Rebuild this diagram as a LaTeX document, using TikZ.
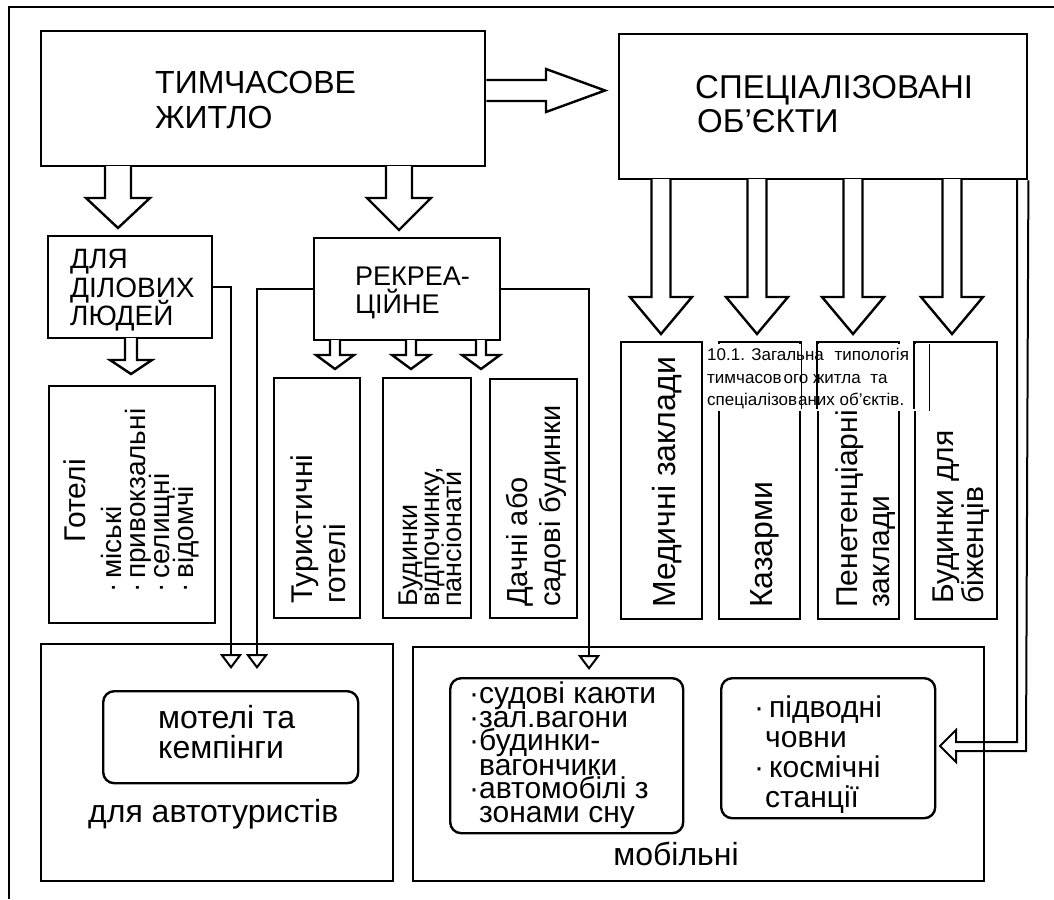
\documentclass[tikz,border=0pt]{standalone}
\usepackage{fontspec}
\setmainfont{Liberation Sans}
\usetikzlibrary{arrows.meta}
\newcommand{\fsz}[2]{\fontsize{#1}{#2}\selectfont}
% box given by its top-left and bottom-right corners
\newcommand{\boxnode}[6][box]{\node[#1, anchor=north west, minimum width={#5-#3}, minimum height={#6-#4}] (#2) at (#3,#4) {};}
% hollow block arrow pointing down: centre x, top, head start, tip, shaft half width, head half width
\newcommand{\downblk}[6]{\draw[blk] ({#1-#5},#2) -- ({#1-#5},#3) -- ({#1-#6},#3) -- (#1,#4) -- ({#1+#6},#3) -- ({#1+#5},#3) -- ({#1+#5},#2);}
\begin{document}
\begin{tikzpicture}[x=1pt,y=-1pt,
  box/.style={draw, line width=2.4pt, inner sep=0pt},
  rbox/.style={box, rounded corners=11pt},
  blk/.style={draw, line width=2.4pt, line join=miter, fill=white},
  conn/.style={line width=2.4pt},
  opentip/.style={-{Triangle[open, length=15pt, width=22pt, line width=2pt]}},
  lbl/.style={inner sep=0pt, anchor=base west},
  tight/.style={text height=0.68em, text depth=0.12em},
  vlbl/.style={inner sep=0pt, anchor=base west, rotate=90},
  captxt/.style={inner sep=0pt, anchor=base west, font=\fsz{17}{19}}]
\useasboundingbox (0,0) rectangle (1054,899);
\fill[white] (0,0) rectangle (1054,899);

% outer frame (top and left edges)
\draw[line width=2pt] (8,7) -- (1054,7);
\draw[line width=2pt] (9,7) -- (9,899);

% main boxes
\boxnode{A}{40}{30}{484}{165}
\boxnode{B}{618}{33}{1026}{178}
\node[lbl, font=\fsz{32}{36}] (a1) at (155,93) {ТИМЧАСОВЕ};
\node[lbl, font=\fsz{32}{36}] (a2) at (155,128) {ЖИТЛО};
\node[lbl, font=\fsz{33}{36}] (b1) at (695,98) {СПЕЦІАЛІЗОВАНІ};
\node[lbl, font=\fsz{33}{36}] (b2) at (697,132) {ОБ’ЄКТИ};

% second level
\boxnode{C}{47}{235}{211}{337}
\boxnode{R}{313}{237}{499}{339}
\node[lbl, font=\fsz{28}{30}] (c1) at (70,268) {ДЛЯ};
\node[lbl, font=\fsz{28}{30}] (c2) at (70,297) {ДІЛОВИХ};
\node[lbl, font=\fsz{28}{30}] (c3) at (70,325) {ЛЮДЕЙ};
\node[lbl, font=\fsz{27}{30}] (r1) at (355,285) {РЕКРЕА-};
\node[lbl, font=\fsz{27}{30}] (r2) at (355,313) {ЦІЙНЕ};

% hotels
\boxnode{H}{48}{385}{214}{622}
\node[vlbl, font=\fsz{30}{32}] (h0) at (85,543) {Готелі};
\node[vlbl, tight, font=\fsz{28}{30}] (h1) at (121,593) {·\,міські};
\node[vlbl, tight, font=\fsz{28}{30}] (h2) at (145,593) {·\,привокзальні};
\node[vlbl, tight, font=\fsz{28}{30}] (h3) at (169,593) {·\,селищні};
\node[vlbl, tight, font=\fsz{28}{30}] (h4) at (193,593) {·\,відомчі};

% recreational kinds
\boxnode{RA}{273}{377}{359}{617}
\boxnode{RB}{382}{377}{470}{617}
\boxnode{RC}{489}{378}{576}{617}
\node[vlbl, font=\fsz{30}{32}] (ra1) at (312,604) {Туристичні};
\node[vlbl, font=\fsz{30}{32}] (ra2) at (345,604) {готелі};
\node[vlbl, tight, font=\fsz{27}{30}] (rb1) at (417,607) {Будинки};
\node[vlbl, tight, font=\fsz{27}{30}] (rb2) at (439,607) {відпочинку,};
\node[vlbl, tight, font=\fsz{27}{30}] (rb3) at (461,607) {пансіонати};
\node[vlbl, font=\fsz{29}{32}] (rc1) at (527,607) {Дачні або};
\node[vlbl, font=\fsz{29}{32}] (rc2) at (560,607) {садові будинки};

% specialised objects
\boxnode{SA}{620}{341}{701}{618}
\boxnode{SB}{718}{341}{799}{618}
\boxnode{SC}{817}{341}{898}{618}
\boxnode{SD}{914}{341}{996}{618}
\node[vlbl, font=\fsz{32}{34}] (sa1) at (675,608) {Медичні заклади};
\node[vlbl, font=\fsz{32}{34}] (sb1) at (772,608) {Казарми};
\node[vlbl, tight, font=\fsz{30}{32}] (sc1) at (857,608) {Пенетенціарні};
\node[vlbl, tight, font=\fsz{30}{32}] (sc2) at (889,608) {заклади};
\node[vlbl, tight, font=\fsz{30}{32}] (sd1) at (953,604) {Будинки для};
\node[vlbl, tight, font=\fsz{30}{32}] (sd2) at (983,604) {біженців};

% figure caption laid over the specialised boxes
\fill[white] (703,344) rectangle (929,411);
\node[captxt] (k1) at (707,360) {10.1. Загальна\hspace{6pt} типологія};
\node[captxt] (k2) at (707,383) {тимчасов\hspace{2pt}ого житла\hspace{5pt} та};
\node[captxt] (k3) at (707,405) {спеціалізов\hspace{1pt}аних об'єктів.};
\draw[line width=1.2pt] (SB.north east) -- (SB.east |- k3.south);
\draw[line width=1.2pt] (SC.north west) -- (SC.west |- k3.south);
\draw[line width=1.2pt] (SD.north west) -- (SD.west |- k3.south);
\draw[line width=1pt] (929,344) -- (929,411);

% bottom groups
\boxnode{M}{40}{643}{392}{880}
\boxnode[rbox]{Mi}{102}{690}{357}{782}
\node[lbl, font=\fsz{32}{34}] (m1) at (158,728) {мотелі та};
\node[lbl, font=\fsz{32}{34}] (m2) at (158,758) {кемпінги};
\node[lbl, font=\fsz{32}{34}] (m3) at (88,822) {для автотуристів};

\boxnode{Mob}{412}{646}{983}{880}
\boxnode[rbox]{Mb1}{449}{677}{682}{832}
\boxnode[rbox]{Mb2}{720}{677}{934}{817}
\node[lbl, tight, font=\fsz{30}{30}] (p1) at (469,703) {·судові каюти};
\node[lbl, tight, font=\fsz{30}{30}] (p2) at (469,727) {·зал.вагони};
\node[lbl, tight, font=\fsz{30}{30}] (p3) at (469,750) {·будинки-};
\node[lbl, tight, font=\fsz{30}{30}] (p4) at (479,775) {вагончики};
\node[lbl, tight, font=\fsz{30}{30}] (p5) at (469,798) {·автомобілі з};
\node[lbl, tight, font=\fsz{30}{30}] (p6) at (479,822) {зонами сну};
\node[lbl, font=\fsz{30}{30}] (q1) at (754,717) {·\,підводні};
\node[lbl, font=\fsz{30}{30}] (q2) at (765,747) {човни};
\node[lbl, font=\fsz{30}{30}] (q3) at (754,777) {·\,космічні};
\node[lbl, font=\fsz{30}{30}] (q4) at (765,807) {станції};
\node[inner sep=0pt, anchor=base, font=\fsz{32}{34}] (mob) at (676,865) {мобільні};

% hollow block arrows
\draw[blk] (A.east |- 0,80) -- (546,80) -- (546,69) -- (605,90.5) -- (546,112) -- (546,101) -- (A.east |- 0,101);
\downblk{118}{166}{198}{228}{13}{32}
\downblk{399}{166}{198}{230}{13}{32}
\downblk{131}{338}{360}{374}{6}{21}
\downblk{335}{340}{355}{369}{5}{19}
\downblk{411}{340}{355}{369}{5}{19}
\downblk{481}{340}{355}{369}{5}{19}
\downblk{661}{179}{297}{334}{9.5}{31}
\downblk{757}{179}{297}{334}{9.5}{31}
\downblk{853}{179}{297}{334}{9.5}{31}
\downblk{952}{179}{297}{334}{9.5}{31}

% double-line arrow from the specialised objects to the mobile group
\draw[line width=2pt, line join=miter] (1017,179) -- (1017,742) -- (956,742) -- (956,730) -- (940,746) -- (956,762) -- (956,751) -- (1026,751) -- (B.south east);

% thin connectors to the bottom groups
\coordinate (tm1) at (231,669);
\coordinate (tm2) at (257,669);
\coordinate (tmb) at (589,670);
\draw[conn, opentip] (C.east) -| (tm1);
\draw[conn, opentip] (R.west) -| (tm2);
\draw[conn, opentip] (R.east) -| (tmb);
\end{tikzpicture}
\end{document}
